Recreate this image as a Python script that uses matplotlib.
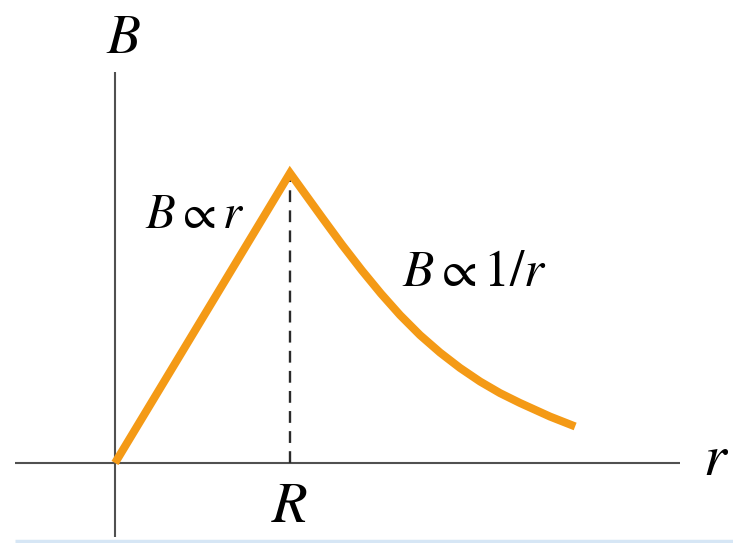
import matplotlib
matplotlib.use('Agg')
import matplotlib.pyplot as plt

plt.rcParams['mathtext.fontset'] = 'stix'

# r in units of R, B in units of B(R)
r_inside = [0.0, 1.0]
B_inside = [0.0, 1.0]
r_outside = [1.0, 1.086, 1.189, 1.297, 1.411, 1.520, 1.629, 1.743, 1.857,
             1.971, 2.086, 2.200, 2.314, 2.486, 2.629]
B_outside = [1.0, 0.928, 0.842, 0.753, 0.664, 0.584, 0.510, 0.441, 0.381,
             0.328, 0.281, 0.241, 0.207, 0.160, 0.126]

orange = '#F49A16'
axis_col = '#505050'

fig = plt.figure(figsize=(7.33, 5.43), dpi=100)
ax = fig.add_axes([0, 0, 1, 1])
ax.set_xlim(-0.657, 3.531)
ax.set_ylim(-0.276, 1.597)
ax.axis('off')

# axes drawn by hand
ax.plot([0, 0], [-0.255, 1.348], color=axis_col, lw=1.5, solid_capstyle='butt')
ax.plot([-0.571, 3.229], [0, 0], color=axis_col, lw=1.5, solid_capstyle='butt')

# dashed marker at r = R
ax.plot([1, 1], [0, 1], color='#2a2a2a', lw=1.7, ls=(0, (5, 3.5)))

# B(r)
ax.plot(r_inside + r_outside[1:], B_inside + B_outside[1:], color=orange, lw=5.8,
        solid_capstyle='butt', solid_joinstyle='miter', zorder=3)

ax.text(0.046, 1.414, r'$B$', fontsize=40, ha='center', va='baseline')
ax.text(3.36, -0.041, r'$r$', fontsize=42, ha='left', va='baseline')
ax.text(1.0, -0.203, r'$R$', fontsize=42, ha='center', va='baseline')
ax.text(0.171, 0.810, r'$B \propto r$', fontsize=35, ha='left', va='baseline')
ax.text(1.640, 0.610, r'$B \propto 1/r$', fontsize=37, ha='left', va='baseline')

# light blue strip at the bottom edge
ax.plot([-0.571, 3.6], [-0.269, -0.269], color='#D6E6F5', lw=2.5, solid_capstyle='butt')

fig.savefig('out.png', dpi=100)
